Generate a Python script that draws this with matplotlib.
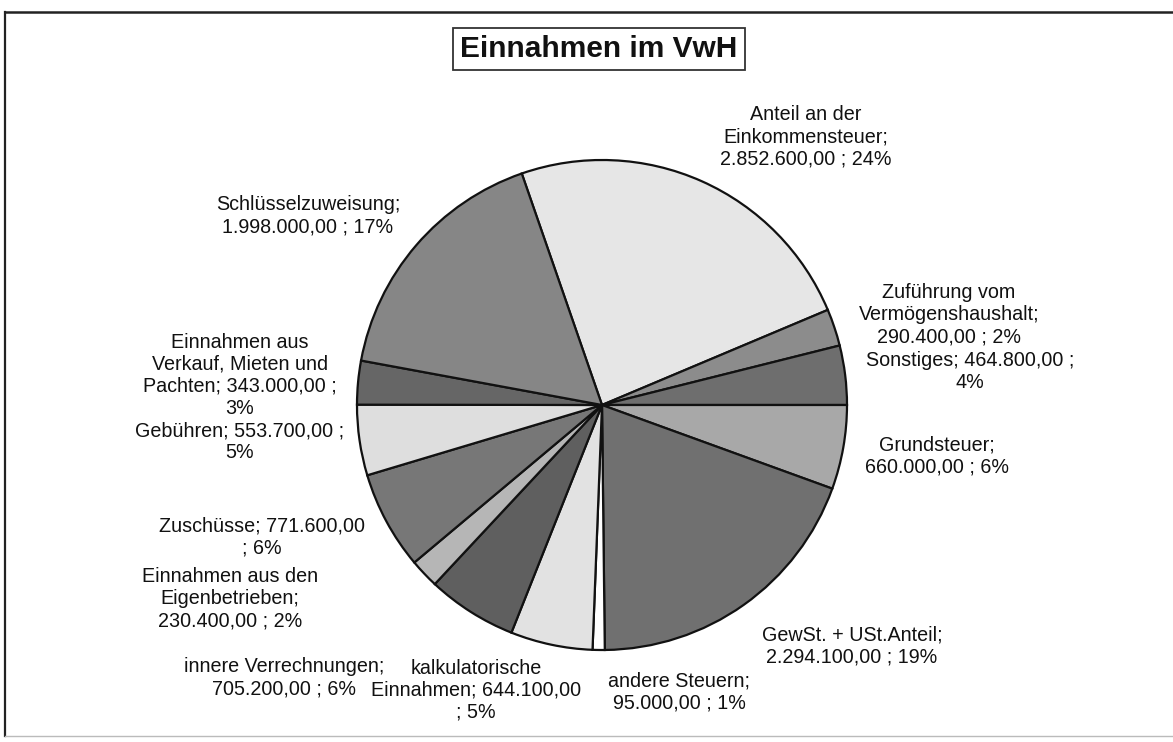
import matplotlib
matplotlib.use("Agg")
import matplotlib.pyplot as plt
from matplotlib.lines import Line2D

plt.rcParams['font.family'] = ['Liberation Sans', 'DejaVu Sans']

# ---- data ----
title = "Einnahmen im VwH"
categories = [
    "Anteil an der Einkommensteuer",
    "Zuführung vom Vermögenshaushalt",
    "Sonstiges",
    "Grundsteuer",
    "GewSt. + USt.Anteil",
    "andere Steuern",
    "kalkulatorische Einnahmen",
    "innere Verrechnungen",
    "Einnahmen aus den Eigenbetrieben",
    "Zuschüsse",
    "Gebühren",
    "Einnahmen aus Verkauf, Mieten und Pachten",
    "Schlüsselzuweisung",
]
values = [2852600, 290400, 464800, 660000, 2294100, 95000, 644100,
          705200, 230400, 771600, 553700, 343000, 1998000]
# label templates (line breaks as in the chart)
label_templates = [
    "Anteil an der\nEinkommensteuer;\n{v} ; {p}%",
    "Zuführung vom\nVermögenshaushalt;\n{v} ; {p}%",
    "Sonstiges; {v} ;\n{p}%",
    "Grundsteuer;\n{v} ; {p}%",
    "GewSt. + USt.Anteil;\n{v} ; {p}%",
    "andere Steuern;\n{v} ; {p}%",
    "kalkulatorische\nEinnahmen; {v}\n; {p}%",
    "innere Verrechnungen;\n{v} ; {p}%",
    "Einnahmen aus den\nEigenbetrieben;\n{v} ; {p}%",
    "Zuschüsse; {v}\n; {p}%",
    "Gebühren; {v} ;\n{p}%",
    "Einnahmen aus\nVerkauf, Mieten und\nPachten; {v} ;\n{p}%",
    "Schlüsselzuweisung;\n{v} ; {p}%",
]

# ---- styles / layout ----
colors = ["#e6e6e6", "#8c8c8c", "#6e6e6e", "#a8a8a8", "#707070", "#ffffff",
          "#e2e2e2", "#5f5f5f", "#b6b6b6", "#777777", "#dedede", "#666666",
          "#868686"]
# label block centres in pixel coordinates (x, y from top)
label_pos = [
    (806, 137), (949, 315), (970, 371), (937, 456), (852, 646),
    (679, 692), (476, 690), (284, 678), (230, 599), (262, 537),
    (240, 442), (240, 375), (308, 216),
]

W, H = 1173, 742
fig = plt.figure(figsize=(W / 100, H / 100), dpi=100)
ax = fig.add_axes([0, 0, 1, 1])


def py(y):
    return H - y


def de(v):
    s = f"{v:,.2f}"
    return s.replace(",", "X").replace(".", ",").replace("X", ".")


total = sum(values)
start = 360.0 * sum(values[:3]) / total

ax.pie(values, colors=colors, startangle=start, counterclock=False,
       center=(602, py(405)), radius=245,
       wedgeprops=dict(edgecolor="#111111", linewidth=1.6))

for tmpl, v, (x, y) in zip(label_templates, values, label_pos):
    txt = tmpl.format(v=de(v), p=round(100 * v / total))
    ax.text(x, py(y), txt, ha="center", va="center", ma="center",
            fontsize=14.2, color="#111111", linespacing=1.2)

ax.text(599, py(49), title, ha="center", va="center", fontsize=21.5,
        fontweight="bold", color="#111111",
        bbox=dict(boxstyle="square,pad=0.25", fc="white", ec="#333333", lw=1.3))

# outer frame
ax.add_line(Line2D([5, W], [py(12), py(12)], color="#222222", lw=1.8))
ax.add_line(Line2D([5, 5], [py(12), py(736)], color="#222222", lw=1.6))
ax.add_line(Line2D([5, W], [py(736), py(736)], color="#bbbbbb", lw=1.0))

ax.set_xlim(0, W)
ax.set_ylim(0, H)
ax.set_aspect("auto")
ax.axis("off")

fig.savefig("out.png", dpi=100, facecolor="white")
